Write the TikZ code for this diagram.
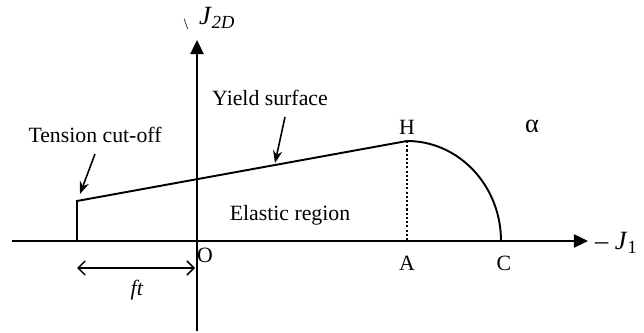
\documentclass[tikz,border=0pt]{standalone}
\usepackage{fontspec}
\setmainfont{Liberation Serif}
\usetikzlibrary{arrows.meta,positioning}

\begin{document}
\begin{tikzpicture}[x=0.02cm, y=-0.02cm, >=Stealth, every node/.style={font=\fontsize{12.4}{14}\selectfont}]
  \useasboundingbox (0,0) rectangle (644,333);
  \tikzset{axis/.style={line width=1.1pt, -{Triangle[length=8pt,width=7.5pt]}},
           curve/.style={line width=1.1pt},
           pointer/.style={->, line width=0.9pt},
           barb/.style={{Straight Barb[length=4pt,width=8pt]}-{Straight Barb[length=4pt,width=8pt]}, line width=0.9pt},
           biglabel/.style={font=\fontsize{15}{17}\selectfont}}

  % Axes
  \coordinate (xstart) at (12,241);
  \coordinate (xend) at (588,241);
  \coordinate (ystart) at (197,331);
  \coordinate (yend) at (197,40);
  \draw[axis] (xstart) -- (xend);
  \draw[axis] (ystart) -- (yend);

  % Yield surface and cap
  \coordinate (T) at (77,241);
  \coordinate (Ttop) at (77,201);
  \coordinate (H) at (407,141);
  \coordinate (A) at (407,241);
  \coordinate (C) at (501,241);
  \draw[curve] (T) -- (Ttop) -- (H) arc[start angle=-90, end angle=0, x radius=94, y radius=100];
  \draw[line width=1.3pt, dash pattern=on 1.2pt off 1.2pt] (H) -- (A);

  % Point labels
  \node (Hlab) at (407,127) {H};
  \node (Alab) at (407,263) {A};
  \node (Clab) at (504,263) {C};
  \node (Olab) at (205,255) {O};
  \node[biglabel] (alpha) at (532,126) {α};
  \node[biglabel, anchor=west] (J1) at (589,243) {– \textit{J}\textsubscript{1}};
  \node[biglabel, anchor=west] (J2D) at (193,18) {\textit{J}\textsubscript{\textit{2D}}};
  \node[font=\small] (tick) at (186,24) {\textbackslash};

  % Annotations
  \node (yield) at (270,98) {Yield surface};
  \coordinate (ytip) at (275,163);
  \draw[pointer] ([xshift=0.3cm,yshift=-0.1cm]yield.south) -- (ytip);

  \node (tension) at (95,135) {Tension cut-off};
  \coordinate (ttip) at (80,194);
  \draw[pointer] ([yshift=-0.1cm]tension.south) -- (ttip);

  \node (elastic) at (290,215) {Elastic region};

  % Tensile strength
  \coordinate (ftl) at (77,268);
  \coordinate (ftr) at (195,268);
  \draw[barb] (ftl) -- (ftr);
  \node (ft) at (137,290) {\textit{ft}};
\end{tikzpicture}
\end{document}
